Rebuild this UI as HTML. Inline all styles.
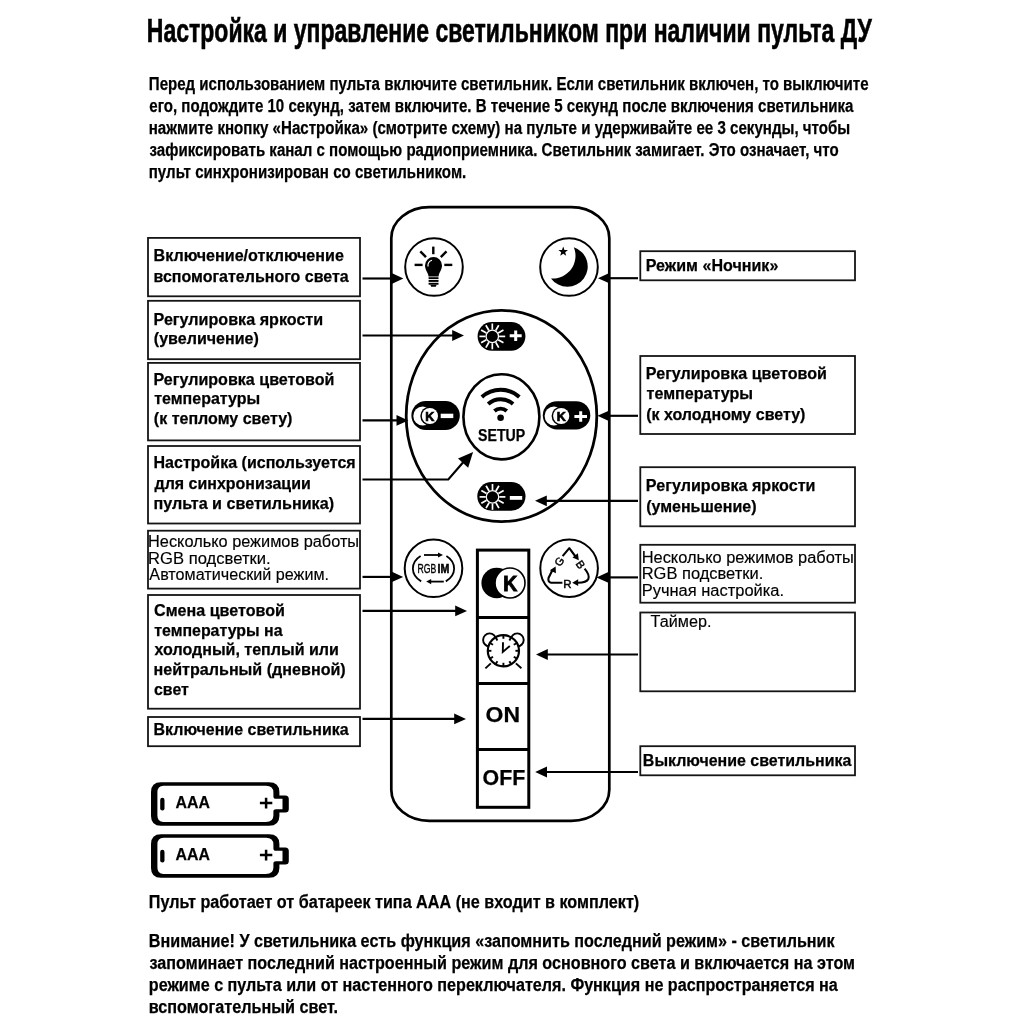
<!DOCTYPE html>
<html><head><meta charset="utf-8"><style>
html,body{margin:0;padding:0;background:#fff;}
svg{display:block;filter:grayscale(100%);}
text{font-family:"Liberation Sans",sans-serif;fill:#000;}
</style></head><body>
<svg width="1024" height="1024" viewBox="0 0 1024 1024">
<rect width="1024" height="1024" fill="#fff"/>
<rect x="148" y="237.9" width="212" height="58.400000000000006" fill="none" stroke="#151515" stroke-width="1.8"/>
<rect x="148" y="300.8" width="212" height="58.39999999999998" fill="none" stroke="#151515" stroke-width="1.8"/>
<rect x="148" y="362.9" width="212" height="77.5" fill="none" stroke="#151515" stroke-width="1.8"/>
<rect x="148" y="446" width="212" height="77.5" fill="none" stroke="#151515" stroke-width="1.8"/>
<rect x="148" y="530.7" width="212" height="57.89999999999998" fill="none" stroke="#151515" stroke-width="1.8"/>
<rect x="148" y="595" width="212" height="113.70000000000005" fill="none" stroke="#151515" stroke-width="1.8"/>
<rect x="148" y="717" width="212" height="29.200000000000045" fill="none" stroke="#151515" stroke-width="1.8"/>
<rect x="640.3" y="251.2" width="214.70000000000005" height="29.100000000000023" fill="none" stroke="#151515" stroke-width="1.8"/>
<rect x="640.3" y="356" width="214.70000000000005" height="78" fill="none" stroke="#151515" stroke-width="1.8"/>
<rect x="640.3" y="467.2" width="214.70000000000005" height="59.099999999999966" fill="none" stroke="#151515" stroke-width="1.8"/>
<rect x="640.3" y="544.8" width="214.70000000000005" height="57.90000000000009" fill="none" stroke="#151515" stroke-width="1.8"/>
<rect x="640.3" y="612.5" width="214.70000000000005" height="78.79999999999995" fill="none" stroke="#151515" stroke-width="1.8"/>
<rect x="640.3" y="746.2" width="214.70000000000005" height="29.09999999999991" fill="none" stroke="#151515" stroke-width="1.8"/>
<rect x="391.3" y="207.2" width="218" height="613.6" rx="38" ry="31" fill="none" stroke="#000" stroke-width="2.7"/>
<circle cx="434" cy="267" r="28.8" fill="none" stroke="#000" stroke-width="2.0"/>
<circle cx="569" cy="267" r="28.8" fill="none" stroke="#000" stroke-width="2.0"/>
<circle cx="433.5" cy="568.3" r="28.8" fill="none" stroke="#000" stroke-width="2.0"/>
<circle cx="569.1" cy="568.2" r="28.8" fill="none" stroke="#000" stroke-width="2.0"/>
<ellipse cx="501.5" cy="416" rx="95.3" ry="105.6" fill="none" stroke="#000" stroke-width="2.8"/>
<ellipse cx="501.4" cy="416.8" rx="38" ry="42.6" fill="none" stroke="#000" stroke-width="2.6"/>
<rect x="477.6" y="322" width="47.799999999999955" height="28.69999999999999" rx="14.349999999999994" ry="14.349999999999994" fill="#000"/>
<rect x="477.3" y="482" width="48.19999999999999" height="28.69999999999999" rx="14.349999999999994" ry="14.349999999999994" fill="#000"/>
<rect x="411.4" y="400.9" width="48.400000000000034" height="29.0" rx="14.5" ry="14.5" fill="#000"/>
<rect x="542.8" y="401.2" width="47.5" height="28.30000000000001" rx="14.150000000000006" ry="14.150000000000006" fill="#000"/>
<circle cx="492.3" cy="336.4" r="6.2" fill="#000" stroke="#fff" stroke-width="1.25"/>
<line x1="499.10" y1="336.40" x2="505.20" y2="336.40" stroke="#fff" stroke-width="1.7"/>
<line x1="498.19" y1="339.80" x2="503.47" y2="342.85" stroke="#fff" stroke-width="1.7"/>
<line x1="495.70" y1="342.29" x2="498.75" y2="347.57" stroke="#fff" stroke-width="1.7"/>
<line x1="492.30" y1="343.20" x2="492.30" y2="349.30" stroke="#fff" stroke-width="1.7"/>
<line x1="488.90" y1="342.29" x2="485.85" y2="347.57" stroke="#fff" stroke-width="1.7"/>
<line x1="486.41" y1="339.80" x2="481.13" y2="342.85" stroke="#fff" stroke-width="1.7"/>
<line x1="485.50" y1="336.40" x2="479.40" y2="336.40" stroke="#fff" stroke-width="1.7"/>
<line x1="486.41" y1="333.00" x2="481.13" y2="329.95" stroke="#fff" stroke-width="1.7"/>
<line x1="488.90" y1="330.51" x2="485.85" y2="325.23" stroke="#fff" stroke-width="1.7"/>
<line x1="492.30" y1="329.60" x2="492.30" y2="323.50" stroke="#fff" stroke-width="1.7"/>
<line x1="495.70" y1="330.51" x2="498.75" y2="325.23" stroke="#fff" stroke-width="1.7"/>
<line x1="498.19" y1="333.00" x2="503.47" y2="329.95" stroke="#fff" stroke-width="1.7"/>
<circle cx="492.5" cy="496.9" r="6.2" fill="#000" stroke="#fff" stroke-width="1.25"/>
<line x1="499.30" y1="496.90" x2="505.40" y2="496.90" stroke="#fff" stroke-width="1.7"/>
<line x1="498.39" y1="500.30" x2="503.67" y2="503.35" stroke="#fff" stroke-width="1.7"/>
<line x1="495.90" y1="502.79" x2="498.95" y2="508.07" stroke="#fff" stroke-width="1.7"/>
<line x1="492.50" y1="503.70" x2="492.50" y2="509.80" stroke="#fff" stroke-width="1.7"/>
<line x1="489.10" y1="502.79" x2="486.05" y2="508.07" stroke="#fff" stroke-width="1.7"/>
<line x1="486.61" y1="500.30" x2="481.33" y2="503.35" stroke="#fff" stroke-width="1.7"/>
<line x1="485.70" y1="496.90" x2="479.60" y2="496.90" stroke="#fff" stroke-width="1.7"/>
<line x1="486.61" y1="493.50" x2="481.33" y2="490.45" stroke="#fff" stroke-width="1.7"/>
<line x1="489.10" y1="491.01" x2="486.05" y2="485.73" stroke="#fff" stroke-width="1.7"/>
<line x1="492.50" y1="490.10" x2="492.50" y2="484.00" stroke="#fff" stroke-width="1.7"/>
<line x1="495.90" y1="491.01" x2="498.95" y2="485.73" stroke="#fff" stroke-width="1.7"/>
<line x1="498.39" y1="493.50" x2="503.67" y2="490.45" stroke="#fff" stroke-width="1.7"/>
<path d="M509.70000000000005,335.8 H521.7 M515.7,330.55 V341.05" stroke="#fff" stroke-width="3"/>
<rect x="509.8" y="496" width="12.4" height="3.8" fill="#fff"/>
<circle cx="422.7" cy="416" r="9.4" fill="#fff"/>
<circle cx="429.9" cy="416" r="9.6" fill="#000"/>
<circle cx="429.9" cy="416" r="8.1" fill="#fff"/>
<text x="429.9" y="420.6" font-size="12.6" font-weight="700" text-anchor="middle" stroke="#000" stroke-width="0.7">K</text>
<rect x="440.7" y="413.7" width="12.6" height="4.4" fill="#fff"/>
<circle cx="554.0" cy="416" r="9.4" fill="#fff"/>
<circle cx="561.2" cy="416" r="9.6" fill="#000"/>
<circle cx="561.2" cy="416" r="8.1" fill="#fff"/>
<text x="561.2" y="420.6" font-size="12.6" font-weight="700" text-anchor="middle" stroke="#000" stroke-width="0.7">K</text>
<path d="M574.4000000000001,416.5 H587.0 M580.7,411.2 V421.8" stroke="#fff" stroke-width="3"/>
<path d="M494.44,410.96 A9.2,9.2 0 0 1 506.76,410.96" fill="none" stroke="#000" stroke-width="3.9"/>
<path d="M488.15,403.98 A18.6,18.6 0 0 1 513.05,403.98" fill="none" stroke="#000" stroke-width="3.9"/>
<path d="M481.86,396.99 A28,28 0 0 1 519.34,396.99" fill="none" stroke="#000" stroke-width="3.9"/>
<circle cx="500.6" cy="417.8" r="3.3" fill="#000"/>
<rect x="477.4" y="550.1" width="51.4" height="257.2" fill="none" stroke="#000" stroke-width="3"/>
<line x1="477.4" y1="617.4" x2="528.8" y2="617.4" stroke="#000" stroke-width="3"/>
<line x1="477.4" y1="683.5" x2="528.8" y2="683.5" stroke="#000" stroke-width="3"/>
<line x1="477.4" y1="749.4" x2="528.8" y2="749.4" stroke="#000" stroke-width="3"/>
<circle cx="496.7" cy="583" r="15.3" fill="#000"/>
<circle cx="510" cy="583" r="15" fill="#fff" stroke="#000" stroke-width="1.6"/>
<text x="503.2" y="591.4" font-size="22.6" font-weight="700" stroke="#000" stroke-width="1.0" textLength="14" lengthAdjust="spacingAndGlyphs">K</text>
<line x1="362.5" y1="278.5" x2="392.59999999999997" y2="278.5" stroke="#000" stroke-width="2.15"/><path d="M403.4,278.5 L391.59999999999997,273.1 L391.59999999999997,283.9 Z" fill="#000"/>
<line x1="362.5" y1="335.5" x2="453.2" y2="335.5" stroke="#000" stroke-width="2.15"/><path d="M464,335.5 L452.2,330.1 L452.2,340.9 Z" fill="#000"/>
<line x1="362.5" y1="420.4" x2="397.5" y2="420.4" stroke="#000" stroke-width="2.15"/><path d="M408.3,420.4 L396.5,415.0 L396.5,425.79999999999995 Z" fill="#000"/>
<line x1="362.5" y1="576.9" x2="392.4" y2="576.9" stroke="#000" stroke-width="2.15"/><path d="M403.2,576.9 L391.4,571.5 L391.4,582.3 Z" fill="#000"/>
<line x1="362.5" y1="610.9" x2="456.2" y2="610.9" stroke="#000" stroke-width="2.15"/><path d="M467,610.9 L455.2,605.5 L455.2,616.3 Z" fill="#000"/>
<line x1="362.5" y1="718.9" x2="455.2" y2="718.9" stroke="#000" stroke-width="2.15"/><path d="M466,718.9 L454.2,713.5 L454.2,724.3 Z" fill="#000"/>
<polyline points="362.5,479.5 448.3,479.5 466,459" fill="none" stroke="#000" stroke-width="2.15"/>
<path d="M473.1,452.0 L468.14,467.70 L458.02,458.62 Z" fill="#000"/>
<line x1="638" y1="278.2" x2="608.8" y2="278.2" stroke="#000" stroke-width="2.15"/><path d="M598,278.2 L609.8,272.8 L609.8,283.59999999999997 Z" fill="#000"/>
<line x1="638" y1="415.8" x2="608.3" y2="415.8" stroke="#000" stroke-width="2.15"/><path d="M597.5,415.8 L609.3,410.40000000000003 L609.3,421.2 Z" fill="#000"/>
<line x1="638" y1="500.8" x2="545.8" y2="500.8" stroke="#000" stroke-width="2.15"/><path d="M535,500.8 L546.8,495.40000000000003 L546.8,506.2 Z" fill="#000"/>
<line x1="638" y1="577.4" x2="607.3" y2="577.4" stroke="#000" stroke-width="2.15"/><path d="M596.5,577.4 L608.3,572.0 L608.3,582.8 Z" fill="#000"/>
<line x1="638" y1="654.5" x2="546.8" y2="654.5" stroke="#000" stroke-width="2.15"/><path d="M536,654.5 L547.8,649.1 L547.8,659.9 Z" fill="#000"/>
<line x1="638" y1="772" x2="546.0" y2="772" stroke="#000" stroke-width="2.15"/><path d="M535.2,772 L547.0,766.6 L547.0,777.4 Z" fill="#000"/>
<g stroke="#000" stroke-width="2.4" stroke-linecap="butt"><line x1="433.3" y1="246.6" x2="433.3" y2="254.2"/><line x1="420.3" y1="251.4" x2="426" y2="257.1"/><line x1="446.5" y1="251.4" x2="440.8" y2="257.1"/><line x1="414.6" y1="264.9" x2="422.6" y2="264.9"/><line x1="444.3" y1="264.9" x2="452.3" y2="264.9"/></g>
<path d="M425,265.5 A8.5,8.5 0 1 1 442,265.5 C442,270 438.8,272.5 438.6,276.5 L428.6,276.5 C428.2,272.5 425,270 425,265.5 Z" fill="#000"/>
<path d="M428.0,266.5 A5.8,5.8 0 0 1 432,260.3" fill="none" stroke="#fff" stroke-width="1.2"/>
<rect x="428.6" y="277.2" width="9.9" height="1.9" fill="#000"/>
<rect x="428.6" y="280.0" width="9.9" height="1.9" fill="#000"/>
<rect x="428.6" y="282.8" width="9.9" height="1.9" fill="#000"/>
<path d="M430.3,284.8 H436.7 L435.8,286.8 H431.2 Z" fill="#000"/>
<path d="M573.8,247.2 A20.3,20.3 0 1 1 551,278.4 A22.66,22.66 0 0 0 573.8,247.2 Z" fill="#000"/>
<polygon points="563.20,246.60 564.43,249.90 567.96,250.05 565.20,252.25 566.14,255.65 563.20,253.70 560.26,255.65 561.20,252.25 558.44,250.05 561.97,249.90" fill="#000"/>
<path d="M420.6,556 A20.5,16 0 0 0 421.2,581.4" fill="none" stroke="#000" stroke-width="1.8"/>
<path d="M446.4,556 A20.5,16 0 0 1 445.8,581.4" fill="none" stroke="#000" stroke-width="1.8"/>
<line x1="424" y1="555" x2="439" y2="555" stroke="#000" stroke-width="1.8"/>
<path d="M443.00,555.00 L438.00,557.60 L438.00,552.40 Z" fill="#000"/>
<line x1="443.8" y1="581.6" x2="430" y2="581.6" stroke="#000" stroke-width="1.8"/>
<path d="M426.20,581.60 L431.20,579.00 L431.20,584.20 Z" fill="#000"/>
<text x="417.6" y="573.4" font-size="13.6" font-weight="400" textLength="18.8" lengthAdjust="spacingAndGlyphs" stroke="#000" stroke-width="0.35">RGB</text>
<text x="437.6" y="573.4" font-size="13.6" font-weight="700" textLength="11.8" lengthAdjust="spacingAndGlyphs" stroke="#000" stroke-width="0.6">IM</text>
<g fill="none" stroke="#000" stroke-width="2.1" stroke-linejoin="round"><path d="M562.6,556.2 L569.3,548.2 L575.5,556.5"/><path d="M584.6,568.6 Q590,575 588.3,579 Q586.5,582.7 578,582.7"/><path d="M562.4,582.7 L551,582.7 Q547.8,582.2 548.5,578 L552.2,570.5"/></g>
<path d="M578.80,560.20 L572.48,557.44 L577.92,553.36 Z" fill="#000"/>
<path d="M572.20,582.70 L578.20,579.30 L578.20,586.10 Z" fill="#000"/>
<path d="M555.60,566.40 L555.93,573.27 L549.87,570.21 Z" fill="#000"/>
<text transform="translate(559.2,561.6) rotate(-55)" x="0" y="3.9" font-size="11" text-anchor="middle" stroke="#000" stroke-width="0.45">G</text>
<text transform="translate(580.6,564.4) rotate(55)" x="0" y="3.9" font-size="11" text-anchor="middle" stroke="#000" stroke-width="0.45">B</text>
<text x="567.4" y="587.6" font-size="11.5" text-anchor="middle" stroke="#000" stroke-width="0.45">R</text>
<circle cx="489.6" cy="639.9" r="6.5" fill="#fff" stroke="#000" stroke-width="1.9"/>
<circle cx="517.2" cy="639.9" r="6.5" fill="#fff" stroke="#000" stroke-width="1.9"/>
<circle cx="503.4" cy="650.8" r="15.6" fill="#fff" stroke="#000" stroke-width="2.2"/>
<line x1="515.40" y1="650.80" x2="519.00" y2="650.80" stroke="#000" stroke-width="1.9"/>
<line x1="513.79" y1="656.80" x2="516.91" y2="658.60" stroke="#000" stroke-width="1.9"/>
<line x1="509.40" y1="661.19" x2="511.20" y2="664.31" stroke="#000" stroke-width="1.9"/>
<line x1="503.40" y1="662.80" x2="503.40" y2="666.40" stroke="#000" stroke-width="1.9"/>
<line x1="497.40" y1="661.19" x2="495.60" y2="664.31" stroke="#000" stroke-width="1.9"/>
<line x1="493.01" y1="656.80" x2="489.89" y2="658.60" stroke="#000" stroke-width="1.9"/>
<line x1="491.40" y1="650.80" x2="487.80" y2="650.80" stroke="#000" stroke-width="1.9"/>
<line x1="493.01" y1="644.80" x2="489.89" y2="643.00" stroke="#000" stroke-width="1.9"/>
<line x1="497.40" y1="640.41" x2="495.60" y2="637.29" stroke="#000" stroke-width="1.9"/>
<line x1="503.40" y1="638.80" x2="503.40" y2="635.20" stroke="#000" stroke-width="1.9"/>
<line x1="509.40" y1="640.41" x2="511.20" y2="637.29" stroke="#000" stroke-width="1.9"/>
<line x1="513.79" y1="644.80" x2="516.91" y2="643.00" stroke="#000" stroke-width="1.9"/>
<path d="M503,642.2 L502.8,652 L509.8,646" fill="none" stroke="#000" stroke-width="1.9"/>
<line x1="490.8" y1="663.4" x2="485.4" y2="668.4" stroke="#000" stroke-width="1.9"/>
<line x1="515.9" y1="663.4" x2="521.4" y2="668.2" stroke="#000" stroke-width="1.9"/>
<path d="M161,782.2 H269 Q279.4,782.2 279.4,792.0 V795.5 H285.3 Q288.8,795.5 288.8,799.0 V809.0 Q288.8,812.5 285.3,812.5 H279.4 V816.0 Q279.4,825.8 269,825.8 H161 Q151,825.8 151,816.0 V792.0 Q151,782.2 161,782.2 Z M163.5,785.7 H266 Q273.4,785.7 273.4,792.5 V796.5 Q273.4,798.8 276,798.8 H282.5 V809.2 H276 Q273.4,809.2 273.4,811.5 V815.5 Q273.4,822.0 266,822.0 H163.5 Q157.4,822.0 157.4,815.5 V792.5 Q157.4,785.7 163.5,785.7 Z" fill="#000" fill-rule="evenodd"/>
<rect x="160.2" y="797.8" width="4.3" height="12.7" rx="2.1" fill="#000"/>
<path d="M259.9,803.1 H272.3 M266.1,797.8 V808.5" stroke="#000" stroke-width="2.5"/>
<path d="M161,834.2 H269 Q279.4,834.2 279.4,844.0 V847.5 H285.3 Q288.8,847.5 288.8,851.0 V861.0 Q288.8,864.5 285.3,864.5 H279.4 V868.0 Q279.4,877.8 269,877.8 H161 Q151,877.8 151,868.0 V844.0 Q151,834.2 161,834.2 Z M163.5,837.7 H266 Q273.4,837.7 273.4,844.5 V848.5 Q273.4,850.8 276,850.8 H282.5 V861.2 H276 Q273.4,861.2 273.4,863.5 V867.5 Q273.4,874.0 266,874.0 H163.5 Q157.4,874.0 157.4,867.5 V844.5 Q157.4,837.7 163.5,837.7 Z" fill="#000" fill-rule="evenodd"/>
<rect x="160.2" y="849.8" width="4.3" height="12.7" rx="2.1" fill="#000"/>
<path d="M259.9,855.1 H272.3 M266.1,849.8 V860.5" stroke="#000" stroke-width="2.5"/>
<text x="146.83" y="41.50" font-size="32.5" font-weight="700" textLength="724.87" lengthAdjust="spacingAndGlyphs" stroke="#000" stroke-width="0.6">Настройка и управление светильником при наличии пульта ДУ</text>
<text x="148.80" y="89.50" font-size="18" font-weight="700" textLength="719.82" lengthAdjust="spacingAndGlyphs" stroke="#000" stroke-width="0.25">Перед использованием пульта включите светильник. Если светильник включен, то выключите</text>
<text x="149.30" y="111.60" font-size="18" font-weight="700" textLength="704.19" lengthAdjust="spacingAndGlyphs" stroke="#000" stroke-width="0.25">его, подождите 10 секунд, затем включите. В течение 5 секунд после включения светильника</text>
<text x="148.74" y="133.70" font-size="18" font-weight="700" textLength="701.51" lengthAdjust="spacingAndGlyphs" stroke="#000" stroke-width="0.25">нажмите кнопку «Настройка» (смотрите схему) на пульте и удерживайте ее 3 секунды, чтобы</text>
<text x="149.53" y="155.80" font-size="18" font-weight="700" textLength="689.17" lengthAdjust="spacingAndGlyphs" stroke="#000" stroke-width="0.25">зафиксировать канал с помощью радиоприемника. Светильник замигает. Это означает, что</text>
<text x="148.74" y="177.90" font-size="18" font-weight="700" textLength="317.50" lengthAdjust="spacingAndGlyphs" stroke="#000" stroke-width="0.25">пульт синхронизирован со светильником.</text>
<text x="153.56" y="261.40" font-size="17" font-weight="700" textLength="190.32" lengthAdjust="spacingAndGlyphs" stroke="#000" stroke-width="0.25">Включение/отключение</text>
<text x="153.51" y="282.00" font-size="17" font-weight="700" textLength="195.28" lengthAdjust="spacingAndGlyphs" stroke="#000" stroke-width="0.25">вспомогательного света</text>
<text x="153.56" y="324.90" font-size="17" font-weight="700" textLength="169.62" lengthAdjust="spacingAndGlyphs" stroke="#000" stroke-width="0.25">Регулировка яркости</text>
<text x="153.85" y="344.00" font-size="17" font-weight="700" textLength="104.99" lengthAdjust="spacingAndGlyphs" stroke="#000" stroke-width="0.25">(увеличение)</text>
<text x="153.56" y="385.30" font-size="17" font-weight="700" textLength="180.82" lengthAdjust="spacingAndGlyphs" stroke="#000" stroke-width="0.25">Регулировка цветовой</text>
<text x="154.22" y="404.40" font-size="17" font-weight="700" textLength="105.97" lengthAdjust="spacingAndGlyphs" stroke="#000" stroke-width="0.25">температуры</text>
<text x="153.85" y="423.50" font-size="17" font-weight="700" textLength="138.59" lengthAdjust="spacingAndGlyphs" stroke="#000" stroke-width="0.25">(к теплому свету)</text>
<text x="153.56" y="468.40" font-size="17" font-weight="700" textLength="202.12" lengthAdjust="spacingAndGlyphs" stroke="#000" stroke-width="0.25">Настройка (используется</text>
<text x="154.58" y="488.60" font-size="17" font-weight="700" textLength="156.19" lengthAdjust="spacingAndGlyphs" stroke="#000" stroke-width="0.25">для синхронизации</text>
<text x="153.51" y="508.90" font-size="17" font-weight="700" textLength="180.53" lengthAdjust="spacingAndGlyphs" stroke="#000" stroke-width="0.25">пульта и светильника)</text>
<text x="148.09" y="547.40" font-size="16" font-weight="400" textLength="211.02" lengthAdjust="spacingAndGlyphs" stroke="#000" stroke-width="0.15">Несколько режимов работы</text>
<text x="148.09" y="563.80" font-size="16" font-weight="400" textLength="122.57" lengthAdjust="spacingAndGlyphs" stroke="#000" stroke-width="0.15">RGB подсветки.</text>
<text x="149.37" y="579.90" font-size="16" font-weight="400" textLength="179.69" lengthAdjust="spacingAndGlyphs" stroke="#000" stroke-width="0.15">Автоматический режим.</text>
<text x="154.00" y="616.00" font-size="17" font-weight="700" textLength="130.98" lengthAdjust="spacingAndGlyphs" stroke="#000" stroke-width="0.25">Смена цветовой</text>
<text x="154.22" y="635.50" font-size="17" font-weight="700" textLength="128.27" lengthAdjust="spacingAndGlyphs" stroke="#000" stroke-width="0.25">температуры на</text>
<text x="154.58" y="655.30" font-size="17" font-weight="700" textLength="184.29" lengthAdjust="spacingAndGlyphs" stroke="#000" stroke-width="0.25">холодный, теплый или</text>
<text x="153.51" y="675.30" font-size="17" font-weight="700" textLength="192.23" lengthAdjust="spacingAndGlyphs" stroke="#000" stroke-width="0.25">нейтральный (дневной)</text>
<text x="154.04" y="694.60" font-size="17" font-weight="700" textLength="34.74" lengthAdjust="spacingAndGlyphs" stroke="#000" stroke-width="0.25">свет</text>
<text x="153.56" y="735.00" font-size="17" font-weight="700" textLength="195.23" lengthAdjust="spacingAndGlyphs" stroke="#000" stroke-width="0.25">Включение светильника</text>
<text x="645.76" y="270.70" font-size="17" font-weight="700" textLength="132.59" lengthAdjust="spacingAndGlyphs" stroke="#000" stroke-width="0.25">Режим «Ночник»</text>
<text x="645.86" y="379.20" font-size="17" font-weight="700" textLength="181.02" lengthAdjust="spacingAndGlyphs" stroke="#000" stroke-width="0.25">Регулировка цветовой</text>
<text x="646.52" y="399.00" font-size="17" font-weight="700" textLength="106.57" lengthAdjust="spacingAndGlyphs" stroke="#000" stroke-width="0.25">температуры</text>
<text x="646.15" y="419.60" font-size="17" font-weight="700" textLength="159.29" lengthAdjust="spacingAndGlyphs" stroke="#000" stroke-width="0.25">(к холодному свету)</text>
<text x="645.86" y="491.30" font-size="17" font-weight="700" textLength="169.62" lengthAdjust="spacingAndGlyphs" stroke="#000" stroke-width="0.25">Регулировка яркости</text>
<text x="646.15" y="512.20" font-size="17" font-weight="700" textLength="110.39" lengthAdjust="spacingAndGlyphs" stroke="#000" stroke-width="0.25">(уменьшение)</text>
<text x="641.69" y="562.80" font-size="16" font-weight="400" textLength="212.12" lengthAdjust="spacingAndGlyphs" stroke="#000" stroke-width="0.15">Несколько режимов работы</text>
<text x="641.69" y="579.10" font-size="16" font-weight="400" textLength="121.57" lengthAdjust="spacingAndGlyphs" stroke="#000" stroke-width="0.15">RGB подсветки.</text>
<text x="641.69" y="596.20" font-size="16" font-weight="400" textLength="142.37" lengthAdjust="spacingAndGlyphs" stroke="#000" stroke-width="0.15">Ручная настройка.</text>
<text x="650.64" y="626.60" font-size="16" font-weight="400" textLength="60.82" lengthAdjust="spacingAndGlyphs" stroke="#000" stroke-width="0.15">Таймер.</text>
<text x="642.86" y="765.50" font-size="17" font-weight="700" textLength="208.53" lengthAdjust="spacingAndGlyphs" stroke="#000" stroke-width="0.25">Выключение светильника</text>
<text x="148.80" y="908.00" font-size="18" font-weight="700" textLength="490.40" lengthAdjust="spacingAndGlyphs" stroke="#000" stroke-width="0.25">Пульт работает от батареек типа ААА (не входит в комплект)</text>
<text x="148.80" y="946.80" font-size="18" font-weight="700" textLength="685.80" lengthAdjust="spacingAndGlyphs" stroke="#000" stroke-width="0.25">Внимание! У светильника есть функция «запомнить последний режим» - светильник</text>
<text x="149.53" y="968.80" font-size="18" font-weight="700" textLength="705.52" lengthAdjust="spacingAndGlyphs" stroke="#000" stroke-width="0.25">запоминает последний настроенный режим для основного света и включается на этом</text>
<text x="148.81" y="990.80" font-size="18" font-weight="700" textLength="688.97" lengthAdjust="spacingAndGlyphs" stroke="#000" stroke-width="0.25">режиме с пульта или от настенного переключателя. Функция не распространяется на</text>
<text x="148.74" y="1012.80" font-size="18" font-weight="700" textLength="189.30" lengthAdjust="spacingAndGlyphs" stroke="#000" stroke-width="0.25">вспомогательный свет.</text>
<text x="478.12" y="440.80" font-size="16.8" font-weight="700" textLength="47.16" lengthAdjust="spacingAndGlyphs" stroke="#000" stroke-width="0.25">SETUP</text>
<text x="485.58" y="721.90" font-size="22.5" font-weight="700" textLength="34.44" lengthAdjust="spacingAndGlyphs" stroke="#000" stroke-width="0.25">ON</text>
<text x="482.58" y="784.60" font-size="22.5" font-weight="700" textLength="42.75" lengthAdjust="spacingAndGlyphs" stroke="#000" stroke-width="0.25">OFF</text>
<text x="175.58" y="808.30" font-size="17" font-weight="700" textLength="34.37" lengthAdjust="spacingAndGlyphs" stroke="#000" stroke-width="0.25">AAA</text>
<text x="175.58" y="860.30" font-size="17" font-weight="700" textLength="34.37" lengthAdjust="spacingAndGlyphs" stroke="#000" stroke-width="0.25">AAA</text>
</svg></body></html>
